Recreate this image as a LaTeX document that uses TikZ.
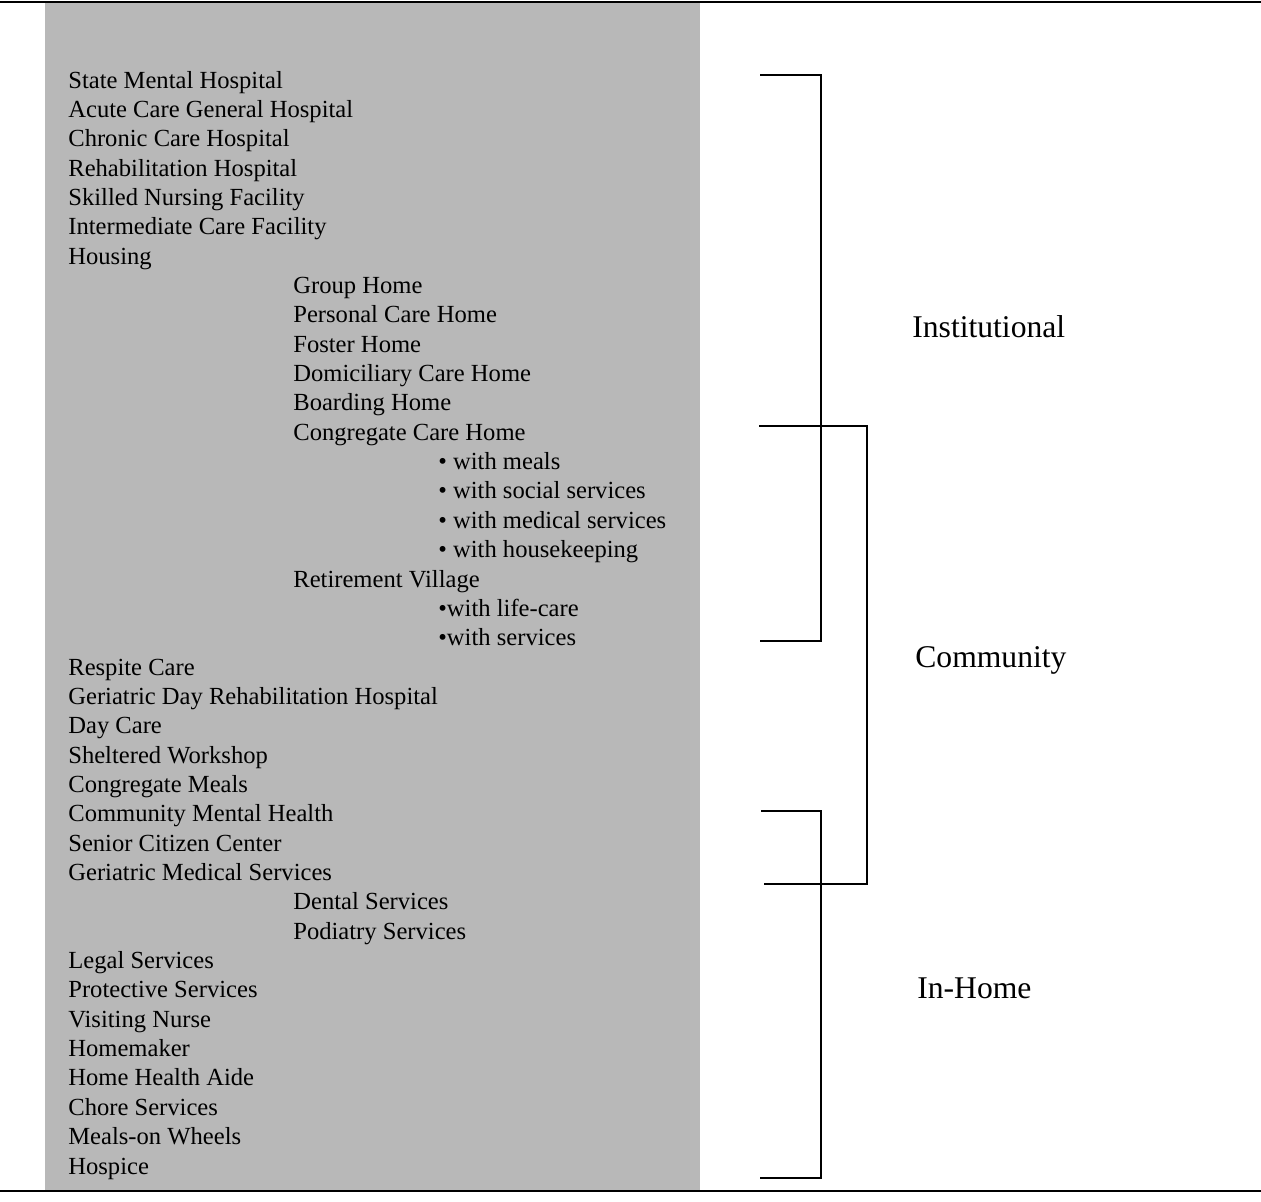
\documentclass[tikz,border=0pt]{standalone}
\usepackage{fontspec}
\setmainfont{Liberation Serif}
\begin{document}
\begin{tikzpicture}[x=0.02cm,y=-0.02cm,
  entry/.style={anchor=base west,inner sep=0pt,font=\fontsize{14}{16}\selectfont},
  group/.style={anchor=base west,inner sep=0pt,font=\fontsize{18}{22}\selectfont},
  brace/.style={line width=1.1pt}]
\useasboundingbox (0,0) rectangle (1261,1201);

% shaded panel and rules
\fill[black!28] (45,2) rectangle (700,1190);
\draw[line width=1.5pt] (0,2) -- (1261,2);
\draw[line width=1.2pt] (0,1191) -- (1261,1191);

\node[entry] (t1) at (68,88) {State Mental Hospital};
\node[entry] (t2) at (68,117.4) {Acute Care General Hospital};
\node[entry] (t3) at (68,146.7) {Chronic Care Hospital};
\node[entry] (t4) at (68,176.1) {Rehabilitation Hospital};
\node[entry] (t5) at (68,205.4) {Skilled Nursing Facility};
\node[entry] (t6) at (68,234.8) {Intermediate Care Facility};
\node[entry] (t7) at (68,264.1) {Housing};
\node[entry] (t8) at (293,293.5) {Group Home};
\node[entry] (t9) at (293,322.8) {Personal Care Home};
\node[entry] (t10) at (293,352.2) {Foster Home};
\node[entry] (t11) at (293,381.5) {Domiciliary Care Home};
\node[entry] (t12) at (293,410.9) {Boarding Home};
\node[entry] (t13) at (293,440.2) {Congregate Care Home};
\node[entry] (t14) at (438,469.6) {• with meals};
\node[entry] (t15) at (438,498.9) {• with social services};
\node[entry] (t16) at (438,528.3) {• with medical services};
\node[entry] (t17) at (438,557.6) {• with housekeeping};
\node[entry] (t18) at (293,587) {Retirement Village};
\node[entry] (t19) at (438,616.3) {•with life-care};
\node[entry] (t20) at (438,645.7) {•with services};
\node[entry] (t21) at (68,675) {Respite Care};
\node[entry] (t22) at (68,704.4) {Geriatric Day Rehabilitation Hospital};
\node[entry] (t23) at (68,733.7) {Day Care};
\node[entry] (t24) at (68,763.1) {Sheltered Workshop};
\node[entry] (t25) at (68,792.4) {Congregate Meals};
\node[entry] (t26) at (68,821.8) {Community Mental Health};
\node[entry] (t27) at (68,851.1) {Senior Citizen Center};
\node[entry] (t28) at (68,880.5) {Geriatric Medical Services};
\node[entry] (t29) at (293,909.8) {Dental Services};
\node[entry] (t30) at (293,939.2) {Podiatry Services};
\node[entry] (t31) at (68,968.5) {Legal Services};
\node[entry] (t32) at (68,997.9) {Protective Services};
\node[entry] (t33) at (68,1027.2) {Visiting Nurse};
\node[entry] (t34) at (68,1056.6) {Homemaker};
\node[entry] (t35) at (68,1085.9) {Home Health Aide};
\node[entry] (t36) at (68,1115.3) {Chore Services};
\node[entry] (t37) at (68,1144.6) {Meals-on Wheels};
\node[entry] (t38) at (68,1174) {Hospice};

% brackets
\coordinate (b1) at (760,75);
\coordinate (b2) at (821,75);
\coordinate (b3) at (821,641);
\coordinate (b4) at (760,641);
\draw[brace] (b1) -- (b2) -- (b3) -- (b4);

\coordinate (b5) at (759,426);
\coordinate (b6) at (867,426);
\coordinate (b7) at (867,884);
\coordinate (b8) at (764,884);
\draw[brace] (b5) -- (b6) -- (b7) -- (b8);

\coordinate (b9) at (761,811);
\coordinate (b10) at (821,811);
\coordinate (b11) at (821,1178);
\coordinate (b12) at (760,1178);
\draw[brace] (b9) -- (b10) -- (b11) -- (b12);

\node[group] (g1) at (912,337) {Institutional};
\node[group] (g2) at (915,667) {Community};
\node[group] (g3) at (917,998) {In-Home};

\end{tikzpicture}
\end{document}
